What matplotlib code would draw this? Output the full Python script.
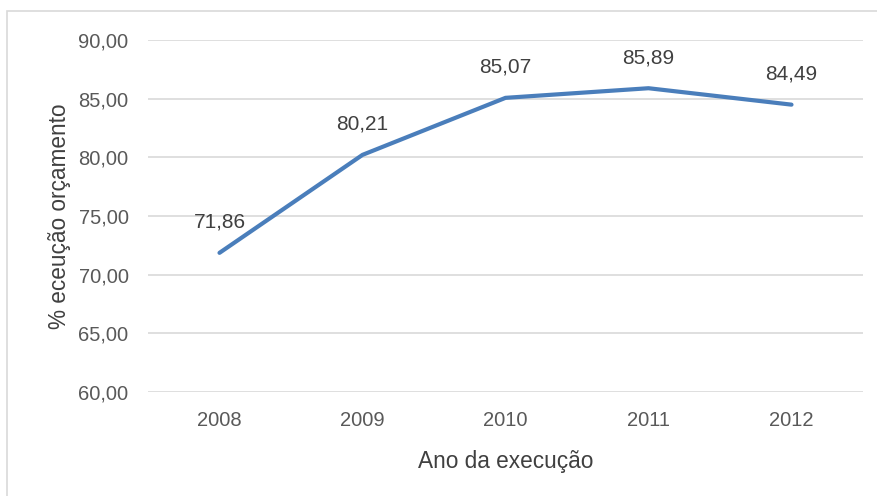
import matplotlib.pyplot as plt
from matplotlib.patches import Rectangle

plt.rcParams['font.family'] = ['Liberation Sans', 'DejaVu Sans']

# data
anos = ['2008', '2009', '2010', '2011', '2012']
execucao = [71.86, 80.21, 85.07, 85.89, 84.49]
y_ticks = [60, 65, 70, 75, 80, 85, 90]

fig = plt.figure(figsize=(8.77, 4.96), dpi=100)
ax = fig.add_axes([148/877, 1 - 392/496, 715/877, 352/496])

# outer chart border (only left/top visible in the reference)
fig.patches.append(Rectangle((7/877, -0.1), 1.0, (496 - 11)/496 + 0.1,
                             transform=fig.transFigure, fill=False,
                             edgecolor='#d9d9d9', linewidth=1.2))

x = range(len(anos))
ax.plot(x, execucao, color='#4a7ebb', linewidth=3, solid_capstyle='round')

for xi, v in zip(x, execucao):
    ax.annotate(f'{v:.2f}'.replace('.', ','), (xi, v), xytext=(0, 22),
                textcoords='offset points', ha='center', va='center',
                fontsize=15, color='#404040')

ax.set_xlim(-0.5, 4.5)
ax.set_ylim(60, 90)
ax.set_yticks(y_ticks)
ax.set_yticklabels([f'{t:.2f}'.replace('.', ',') for t in y_ticks])
ax.set_xticks(list(x))
ax.set_xticklabels(anos)
ax.yaxis.grid(True, color='#d9d9d9', linewidth=1.2)
ax.set_axisbelow(True)
for s in ax.spines.values():
    s.set_visible(False)
ax.tick_params(length=0, labelsize=14.5, colors='#595959')
ax.tick_params(axis='y', pad=14)
ax.tick_params(axis='x', pad=14)

ax.set_xlabel('Ano da execução', fontsize=16.3, color='#404040', labelpad=14)
ax.set_ylabel('% eceução orçamento', fontsize=16.3, color='#404040', labelpad=5)

fig.savefig('out.png', dpi=100)
